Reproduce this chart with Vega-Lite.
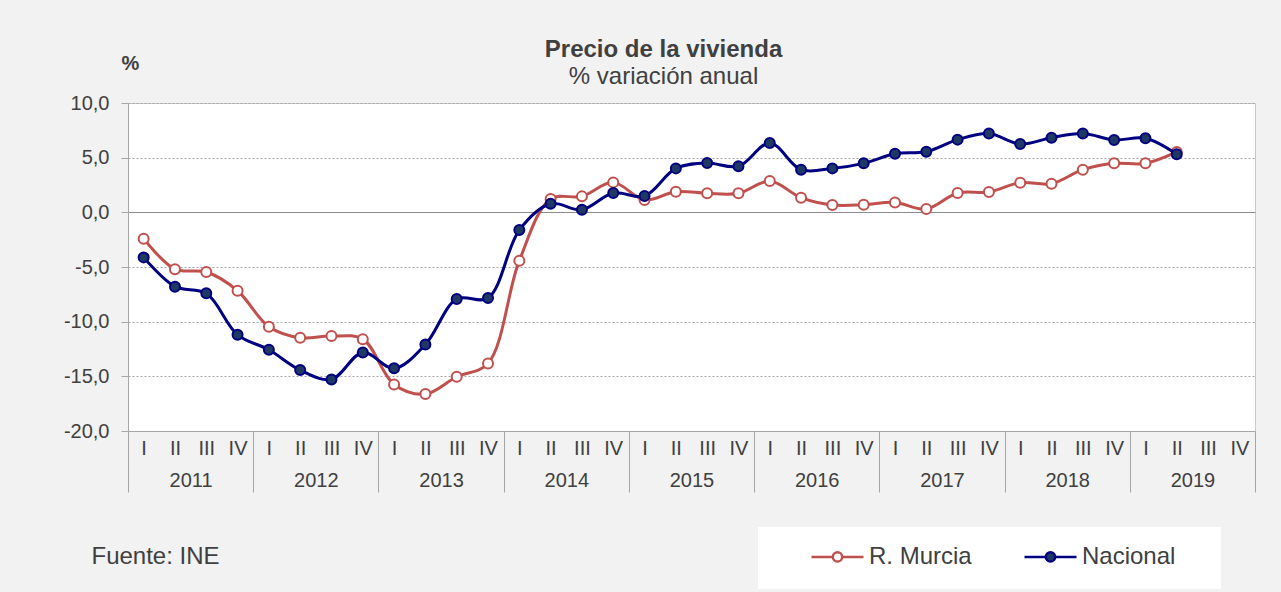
{
  "$schema": "https://vega.github.io/schema/vega-lite/v6.json",
  "width": 1127,
  "height": 328,
  "autosize": {"type": "none"},
  "padding": {"left": 128, "top": 103, "right": 26, "bottom": 161},
  "background": "#f2f2f2",
  "config": {
    "font": "Liberation Sans",
    "view": {"fill": "white", "stroke": "#c8c8c8", "strokeWidth": 1}
  },
  "title": {
    "text": "Precio de la vivienda",
    "subtitle": "% variación anual",
    "anchor": "middle",
    "frame": "group",
    "dx": -28,
    "fontSize": 24,
    "fontWeight": "bold",
    "color": "#404040",
    "subtitleFontSize": 24,
    "subtitleColor": "#404040",
    "subtitlePadding": 3,
    "offset": -36
  },
  "data": {
    "values": [
      {"q": "2011-I", "y": "2011", "s": "R. Murcia", "v": -2.41},
      {"q": "2011-II", "y": "2011", "s": "R. Murcia", "v": -5.2},
      {"q": "2011-III", "y": "2011", "s": "R. Murcia", "v": -5.46},
      {"q": "2011-IV", "y": "2011", "s": "R. Murcia", "v": -7.17},
      {"q": "2012-I", "y": "2012", "s": "R. Murcia", "v": -10.46},
      {"q": "2012-II", "y": "2012", "s": "R. Murcia", "v": -11.47},
      {"q": "2012-III", "y": "2012", "s": "R. Murcia", "v": -11.32},
      {"q": "2012-IV", "y": "2012", "s": "R. Murcia", "v": -11.6},
      {"q": "2013-I", "y": "2013", "s": "R. Murcia", "v": -15.74},
      {"q": "2013-II", "y": "2013", "s": "R. Murcia", "v": -16.62},
      {"q": "2013-III", "y": "2013", "s": "R. Murcia", "v": -15.04},
      {"q": "2013-IV", "y": "2013", "s": "R. Murcia", "v": -13.82},
      {"q": "2014-I", "y": "2014", "s": "R. Murcia", "v": -4.42},
      {"q": "2014-II", "y": "2014", "s": "R. Murcia", "v": 1.22},
      {"q": "2014-III", "y": "2014", "s": "R. Murcia", "v": 1.46},
      {"q": "2014-IV", "y": "2014", "s": "R. Murcia", "v": 2.74},
      {"q": "2015-I", "y": "2015", "s": "R. Murcia", "v": 1.13},
      {"q": "2015-II", "y": "2015", "s": "R. Murcia", "v": 1.89},
      {"q": "2015-III", "y": "2015", "s": "R. Murcia", "v": 1.74},
      {"q": "2015-IV", "y": "2015", "s": "R. Murcia", "v": 1.74},
      {"q": "2016-I", "y": "2016", "s": "R. Murcia", "v": 2.86},
      {"q": "2016-II", "y": "2016", "s": "R. Murcia", "v": 1.34},
      {"q": "2016-III", "y": "2016", "s": "R. Murcia", "v": 0.67},
      {"q": "2016-IV", "y": "2016", "s": "R. Murcia", "v": 0.7},
      {"q": "2017-I", "y": "2017", "s": "R. Murcia", "v": 0.91},
      {"q": "2017-II", "y": "2017", "s": "R. Murcia", "v": 0.3},
      {"q": "2017-III", "y": "2017", "s": "R. Murcia", "v": 1.77},
      {"q": "2017-IV", "y": "2017", "s": "R. Murcia", "v": 1.86},
      {"q": "2018-I", "y": "2018", "s": "R. Murcia", "v": 2.71},
      {"q": "2018-II", "y": "2018", "s": "R. Murcia", "v": 2.62},
      {"q": "2018-III", "y": "2018", "s": "R. Murcia", "v": 3.9},
      {"q": "2018-IV", "y": "2018", "s": "R. Murcia", "v": 4.48},
      {"q": "2019-I", "y": "2019", "s": "R. Murcia", "v": 4.48},
      {"q": "2019-II", "y": "2019", "s": "R. Murcia", "v": 5.52},
      {"q": "2011-I", "y": "2011", "s": "Nacional", "v": -4.12},
      {"q": "2011-II", "y": "2011", "s": "Nacional", "v": -6.8},
      {"q": "2011-III", "y": "2011", "s": "Nacional", "v": -7.41},
      {"q": "2011-IV", "y": "2011", "s": "Nacional", "v": -11.2},
      {"q": "2012-I", "y": "2012", "s": "Nacional", "v": -12.57},
      {"q": "2012-II", "y": "2012", "s": "Nacional", "v": -14.43},
      {"q": "2012-III", "y": "2012", "s": "Nacional", "v": -15.28},
      {"q": "2012-IV", "y": "2012", "s": "Nacional", "v": -12.81},
      {"q": "2013-I", "y": "2013", "s": "Nacional", "v": -14.27},
      {"q": "2013-II", "y": "2013", "s": "Nacional", "v": -12.08},
      {"q": "2013-III", "y": "2013", "s": "Nacional", "v": -7.93},
      {"q": "2013-IV", "y": "2013", "s": "Nacional", "v": -7.84},
      {"q": "2014-I", "y": "2014", "s": "Nacional", "v": -1.62},
      {"q": "2014-II", "y": "2014", "s": "Nacional", "v": 0.79},
      {"q": "2014-III", "y": "2014", "s": "Nacional", "v": 0.24},
      {"q": "2014-IV", "y": "2014", "s": "Nacional", "v": 1.77},
      {"q": "2015-I", "y": "2015", "s": "Nacional", "v": 1.49},
      {"q": "2015-II", "y": "2015", "s": "Nacional", "v": 4.02},
      {"q": "2015-III", "y": "2015", "s": "Nacional", "v": 4.51},
      {"q": "2015-IV", "y": "2015", "s": "Nacional", "v": 4.21},
      {"q": "2016-I", "y": "2016", "s": "Nacional", "v": 6.34},
      {"q": "2016-II", "y": "2016", "s": "Nacional", "v": 3.9},
      {"q": "2016-III", "y": "2016", "s": "Nacional", "v": 4.02},
      {"q": "2016-IV", "y": "2016", "s": "Nacional", "v": 4.48},
      {"q": "2017-I", "y": "2017", "s": "Nacional", "v": 5.36},
      {"q": "2017-II", "y": "2017", "s": "Nacional", "v": 5.55},
      {"q": "2017-III", "y": "2017", "s": "Nacional", "v": 6.65},
      {"q": "2017-IV", "y": "2017", "s": "Nacional", "v": 7.2},
      {"q": "2018-I", "y": "2018", "s": "Nacional", "v": 6.25},
      {"q": "2018-II", "y": "2018", "s": "Nacional", "v": 6.83},
      {"q": "2018-III", "y": "2018", "s": "Nacional", "v": 7.2},
      {"q": "2018-IV", "y": "2018", "s": "Nacional", "v": 6.62},
      {"q": "2019-I", "y": "2019", "s": "Nacional", "v": 6.77},
      {"q": "2019-II", "y": "2019", "s": "Nacional", "v": 5.31}
    ]
  },
  "layer": [
    {
      "encoding": {
        "x": {
          "field": "q",
          "type": "ordinal",
          "scale": {
            "type": "point",
            "padding": 0.5,
            "domain": ["2011-I","2011-II","2011-III","2011-IV","2012-I","2012-II","2012-III","2012-IV","2013-I","2013-II","2013-III","2013-IV","2014-I","2014-II","2014-III","2014-IV","2015-I","2015-II","2015-III","2015-IV","2016-I","2016-II","2016-III","2016-IV","2017-I","2017-II","2017-III","2017-IV","2018-I","2018-II","2018-III","2018-IV","2019-I","2019-II","2019-III","2019-IV"]
          },
          "axis": {
            "orient": "bottom",
            "title": null,
            "ticks": false,
            "grid": false,
            "domain": true,
            "domainColor": "#a6a6a6",
            "labelExpr": "split(datum.value, '-')[1]",
            "labelFontSize": 20,
            "labelColor": "#404040",
            "labelPadding": 7,
            "labelAngle": 0
          }
        },
        "y": {
          "field": "v",
          "type": "quantitative",
          "scale": {"domain": [-20, 10], "nice": false, "zero": false},
          "axis": {
            "values": [-20, -15, -10, -5, 0, 5, 10],
            "title": "%",
            "titleAngle": 0,
            "titleX": 2,
            "titleY": -40,
            "titleAlign": "center",
            "titleBaseline": "middle",
            "titleFontSize": 20,
            "titleFontWeight": "bold",
            "titleColor": "#404040",
            "labelExpr": "replace(replace(format(datum.value, '.1f'), '.', ','), '−', '-')",
            "labelFontSize": 20,
            "labelColor": "#404040",
            "labelPadding": 12,
            "tickSize": 7,
            "tickColor": "#a6a6a6",
            "domainColor": "#a6a6a6",
            "grid": true,
            "gridColor": {"condition": {"test": "datum.value === 0", "value": "#8c8c8c"}, "value": "#a6a6a6"},
            "gridDash": {"condition": {"test": "datum.value === 0", "value": []}, "value": [2, 2]}
          }
        }
      },
      "layer": [
        {
          "transform": [{"filter": "datum.s === 'R. Murcia'"}],
          "mark": {"type": "line", "interpolate": "catmull-rom", "strokeWidth": 3},
          "encoding": {
            "color": {
              "field": "s",
              "type": "nominal",
              "scale": {"domain": ["R. Murcia", "Nacional"], "range": ["#c0504d", "#000080"]},
              "legend": {
                "orient": "none",
                "legendX": 630,
                "legendY": 424,
                "direction": "horizontal",
                "title": " ",
                "titleOrient": "left",
                "titlePadding": 50,
                "titleFontSize": 1,
                "fillColor": "white",
                "padding": 2,
                "symbolType": "M0,-0.95h0M0,0.95h0M-1,0H-0.18M0.18,0H1M-0.18,0A0.18,0.18,0,1,0,0.18,0A0.18,0.18,0,1,0,-0.18,0Z",
                "symbolSize": 2704,
                "symbolStrokeWidth": 2.5,
                "labelFontSize": 24,
                "labelColor": "#404040",
                "labelOffset": 4,
                "columnPadding": 47,
                "labelExpr": "datum.label === 'Nacional' ? 'Nacional\u2800\u00a0\u2800' : datum.label",
                "encode": {
                  "symbols": {
                    "update": {
                      "fill": {"signal": "datum.value === 'Nacional' ? '#1f3864' : '#ffffff'"}
                    }
                  }
                }
              }
            }
          }
        },
        {
          "transform": [{"filter": "datum.s === 'R. Murcia'"}],
          "mark": {"type": "point", "filled": true, "size": 100, "strokeWidth": 2, "fill": "#ffffff", "stroke": "#c0504d", "opacity": 1}
        },
        {
          "transform": [{"filter": "datum.s === 'Nacional'"}],
          "mark": {"type": "line", "interpolate": "catmull-rom", "strokeWidth": 3},
          "encoding": {
            "color": {"field": "s", "type": "nominal", "scale": {"domain": ["R. Murcia", "Nacional"], "range": ["#c0504d", "#000080"]}}
          }
        },
        {
          "transform": [{"filter": "datum.s === 'Nacional'"}],
          "mark": {"type": "point", "filled": true, "size": 100, "strokeWidth": 2, "fill": "#1f3864", "stroke": "#000080", "opacity": 1}
        }
      ]
    },
    {
      "mark": {"type": "point", "opacity": 0},
      "encoding": {
        "x": {
          "field": "y",
          "type": "ordinal",
          "scale": {"type": "band", "paddingInner": 0, "paddingOuter": 0},
          "axis": {
            "orient": "bottom",
            "title": "Fuente: INE",
            "titleX": -37,
            "titleY": 132,
            "titleAlign": "left",
            "titleBaseline": "alphabetic",
            "titleFontSize": 24,
            "titleFontWeight": "normal",
            "titleColor": "#404040",
            "domain": false,
            "grid": false,
            "ticks": true,
            "tickBand": "extent",
            "tickSize": 61,
            "tickColor": "#a6a6a6",
            "labelPadding": -22,
            "labelFontSize": 20,
            "labelColor": "#404040",
            "labelAngle": 0
          }
        }
      }
    }
  ],
  "resolve": {"scale": {"x": "independent"}, "axis": {"x": "independent"}}
}
